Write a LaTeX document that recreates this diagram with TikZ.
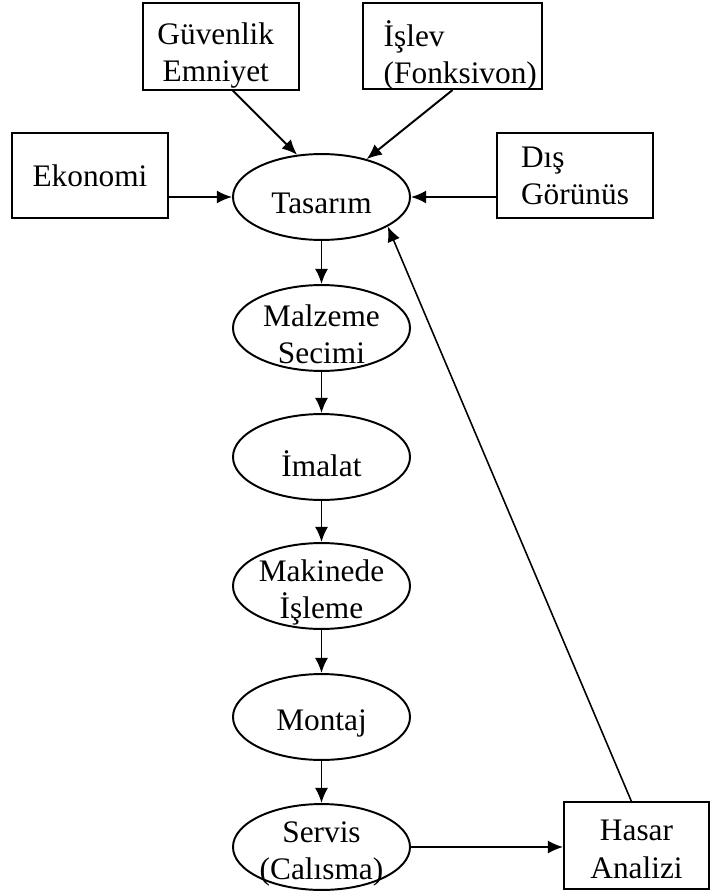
\documentclass[tikz,border=0pt]{standalone}
\usepackage{fontspec}
\setmainfont{Liberation Serif}
\usetikzlibrary{shapes.geometric,arrows.meta}

\begin{document}
\begin{tikzpicture}[>={Latex[length=5.8pt,width=5pt]}, x=0.383pt, y=-0.383pt, line width=0.75pt,
  font=\fontsize{12}{14.2}\selectfont,
  kutu/.style={draw, rectangle, inner sep=0pt, minimum width=59.5pt, minimum height=33pt, align=center},
  asama/.style={draw, ellipse, inner sep=0pt, minimum width=67.8pt, minimum height=32.9pt},
  yazi/.style={align=center, yshift=-2.5pt},
  ustyazi/.style={yshift=-3.5pt}]
\useasboundingbox (0,0) rectangle (711,896);

% girdiler
\node[kutu, label={[ustyazi, align=center, xshift=-2pt]center:{Güvenlik\\Emniyet}}] (guvenlik) at (221,46.5) {};
\node[kutu, minimum width=68.6pt, label={[ustyazi, align=left, xshift=3pt]center:{İşlev\\(Fonksivon)}}] (islev) at (452.5,46) {};
\node[kutu, minimum height=32.6pt] (ekonomi) at (90,175.5) {Ekonomi};
\node[kutu, minimum height=32.6pt, align=left] (dis) at (575,175.5) {Dış\\Görünüs};

% asamalar
\node[asama, label={[yazi]center:Tasarım}] (tasarim) at (321.5,197) {};
\node[asama, label={[yazi]center:{Malzeme\\Secimi}}] (malzeme) at (321.5,328) {};
\node[asama, label={[yazi]center:İmalat}] (imalat) at (321.5,457) {};
\node[asama, label={[yazi]center:{Makinede\\İşleme}}] (makine) at (321.5,586) {};
\node[asama, label={[yazi]center:Montaj}] (montaj) at (321.5,717) {};
\node[asama, label={[yazi]center:{Servis\\(Calısma)}}] (servis) at (321.5,847) {};
\node[kutu, minimum width=55.5pt, minimum height=33.3pt, label={[yazi, yshift=1pt]center:{Hasar\\Analizi}}] (hasar) at (636.5,845.5) {};

\draw[->] ([xshift=4.5pt]guvenlik.south) -- (tasarim.120);
\draw[->] (islev.south) -- (tasarim.40);
\draw[->] (ekonomi.east |- tasarim.west) -- (tasarim.west);
\draw[->] (dis.west |- tasarim.east) -- (tasarim.east);

\draw[->] (tasarim) -- (malzeme);
\draw[->] (malzeme) -- (imalat);
\draw[->] (imalat) -- (makine);
\draw[->] (makine) -- (montaj);
\draw[->] (montaj) -- (servis);

\draw[->] (servis.east) -- (hasar.west |- servis.east);
\draw[->, line width=0.6pt] ([xshift=-2pt]hasar.north) -- (tasarim.-24);
\end{tikzpicture}
\end{document}
